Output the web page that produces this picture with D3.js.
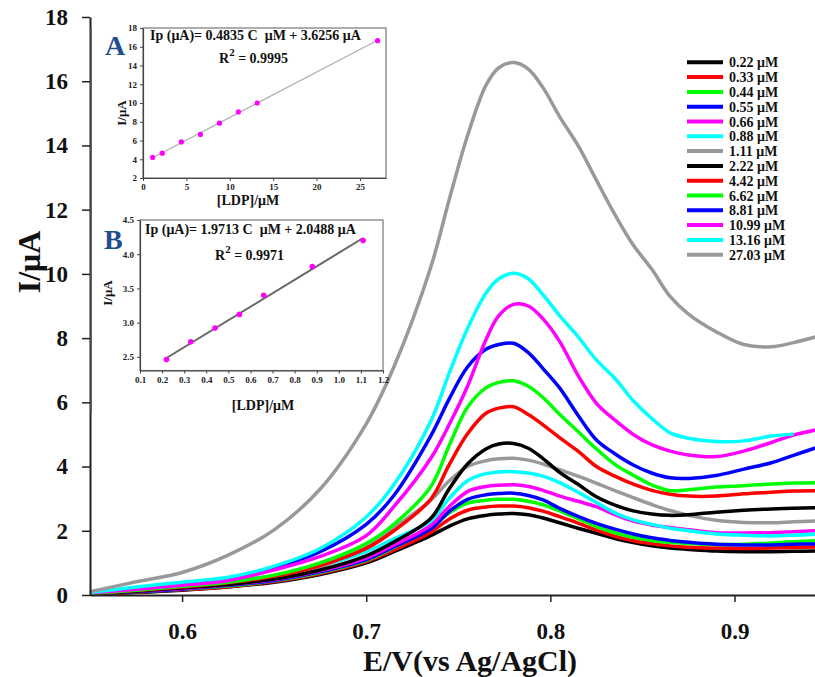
<!DOCTYPE html>
<html>
<head>
<meta charset="utf-8">
<script src="https://cdn.jsdelivr.net/npm/d3@7"></script>
<style>
  body { margin: 0; background: #fff; }
  text { font-family: "Liberation Serif", "Times New Roman", serif; font-weight: bold; }
</style>
</head>
<body>
<div id="chart"></div>
<script>
const width = 815;
const height = 677;

// potentials (V vs Ag/AgCl) shared by every voltammogram
const potentials = [0.55, 0.575, 0.6, 0.625, 0.65, 0.675, 0.70, 0.715, 0.735, 0.745, 0.755, 0.765, 0.772, 0.78,
    0.788, 0.796, 0.805, 0.815, 0.825, 0.835, 0.845, 0.855, 0.865, 0.875, 0.89, 0.905, 0.92, 0.932, 0.945];

// current (µA) per concentration
const c022 = [0.03,0.08,0.15,0.25,0.40,0.64,1.00,1.35,1.85,2.14,2.37,2.48,2.52,2.54,2.50,2.40,2.25,2.08,1.92,1.76,1.63,1.53,1.46,1.42,1.37,1.35,1.35,1.36,1.37];
const c033 = [0.03,0.09,0.16,0.26,0.42,0.67,1.04,1.40,1.95,2.36,2.64,2.74,2.77,2.77,2.72,2.61,2.44,2.24,2.02,1.83,1.69,1.60,1.53,1.49,1.46,1.45,1.46,1.48,1.50];
const c044 = [0.04,0.10,0.18,0.28,0.44,0.70,1.08,1.48,2.08,2.55,2.86,2.95,2.98,2.98,2.92,2.81,2.62,2.38,2.13,1.94,1.80,1.70,1.64,1.60,1.57,1.58,1.62,1.66,1.69];
const c055 = [0.04,0.10,0.18,0.30,0.45,0.72,1.10,1.50,2.06,2.60,2.98,3.12,3.16,3.17,3.10,2.96,2.70,2.45,2.23,2.05,1.90,1.78,1.70,1.64,1.58,1.56,1.56,1.58,1.59];
const c066 = [0.04,0.12,0.20,0.32,0.48,0.75,1.15,1.55,2.17,2.75,3.22,3.38,3.42,3.43,3.38,3.26,3.08,2.92,2.75,2.50,2.30,2.18,2.10,2.03,1.94,1.93,1.94,1.97,2.00];
const c088 = [0.06,0.20,0.30,0.42,0.60,0.90,1.35,1.75,2.30,3.00,3.56,3.78,3.83,3.84,3.80,3.70,3.50,3.20,2.88,2.56,2.34,2.20,2.08,2.00,1.90,1.86,1.84,1.86,1.90];
const c111 = [0.06,0.16,0.28,0.42,0.60,0.87,1.55,2.10,2.95,3.55,4.00,4.18,4.24,4.26,4.20,4.08,3.90,3.70,3.48,3.25,3.03,2.82,2.63,2.48,2.33,2.26,2.25,2.28,2.31];
const c222 = [0.05,0.12,0.22,0.33,0.50,0.78,1.22,1.65,2.38,3.30,4.08,4.55,4.70,4.72,4.57,4.25,3.82,3.45,3.06,2.80,2.62,2.52,2.48,2.50,2.58,2.64,2.68,2.70,2.72];
const c442 = [0.05,0.14,0.25,0.38,0.58,0.92,1.45,2.00,2.98,4.05,5.02,5.66,5.82,5.86,5.62,5.30,4.90,4.48,4.00,3.70,3.45,3.26,3.14,3.08,3.08,3.15,3.20,3.24,3.25];
const c662 = [0.05,0.15,0.27,0.40,0.62,1.00,1.60,2.20,3.37,4.65,5.85,6.45,6.62,6.67,6.50,6.15,5.63,5.09,4.55,4.07,3.73,3.43,3.25,3.28,3.36,3.40,3.46,3.49,3.50];
const c881 = [0.08,0.22,0.38,0.52,0.85,1.35,2.20,3.10,4.95,6.10,7.10,7.65,7.80,7.84,7.55,7.05,6.45,5.60,4.83,4.40,4.05,3.80,3.65,3.63,3.72,3.92,4.12,4.35,4.60];
const c1099 = [0.06,0.18,0.30,0.45,0.78,1.20,1.85,2.75,4.25,5.30,6.50,7.95,8.70,9.05,9.00,8.60,7.90,6.84,5.97,5.45,5.00,4.68,4.48,4.36,4.31,4.48,4.75,4.98,5.15];
const c1316 = [0.08,0.25,0.40,0.55,0.90,1.45,2.43,3.43,5.40,6.90,8.30,9.40,9.85,10.02,9.85,9.35,8.70,8.05,7.32,6.75,6.05,5.50,5.05,4.88,4.78,4.80,4.95,5.01,null];
const c2703 = [0.10,0.41,0.70,1.24,2.03,3.30,5.33,7.10,10.20,12.30,14.30,15.87,16.42,16.58,16.38,15.80,14.90,14.00,12.92,11.85,10.90,10.15,9.30,8.75,8.20,7.80,7.73,7.86,8.05];

const legendLabels = ["0.22 μM", "0.33 μM", "0.44 μM", "0.55 μM", "0.66 μM", "0.88 μM", "1.11 μM",
    "2.22 μM", "4.42 μM", "6.62 μM", "8.81 μM", "10.99 μM", "13.16 μM", "27.03 μM"];
const lineColors = ["#000000", "#ff0000", "#00ff00", "#0000ff", "#ff00ff", "#00ffff", "#999999",
    "#000000", "#ff0000", "#00ff00", "#0000ff", "#ff00ff", "#00ffff", "#999999"];
const currents = [c022, c033, c044, c055, c066, c088, c111, c222, c442, c662, c881, c1099, c1316, c2703];

const yTicks = [0, 2, 4, 6, 8, 10, 12, 14, 16, 18];
const xTicks = [0.6, 0.7, 0.8, 0.9];

// inset A: calibration 1.11 - 27.03 µM
const insetAConc = [1.11, 2.22, 4.42, 6.62, 8.81, 10.99, 13.16, 27.03];
const insetACurrent = [4.2, 4.65, 5.85, 6.65, 7.85, 9.05, 10.0, 16.65];
const insetAXTicks = [0, 5, 10, 15, 20, 25];
const insetAYTicks = [2, 4, 6, 8, 10, 12, 14, 16, 18];

// inset B: calibration 0.22 - 1.11 µM
const insetBConc = [0.22, 0.33, 0.44, 0.55, 0.66, 0.88, 1.11];
const insetBCurrent = [2.46, 2.72, 2.92, 3.12, 3.40, 3.82, 4.20];
const insetBXTicks = [0.1, 0.2, 0.3, 0.4, 0.5, 0.6, 0.7, 0.8, 0.9, 1.0, 1.1, 1.2];
const insetBYTicks = [2.5, 3.0, 3.5, 4.0, 4.5];

const svg = d3.select("#chart")
    .append("svg")
    .attr("width", width)
    .attr("height", height);

const x = d3.scaleLinear().domain([0.55, 0.9437]).range([90, 815]);
const y = d3.scaleLinear().domain([0, 18]).range([595, 17]);

// voltammograms
const line = d3.line()
    .defined(d => d[1] !== null)
    .x(d => x(d[0]))
    .y(d => y(d[1]))
    .curve(d3.curveCatmullRom.alpha(0.5));

currents.forEach((vals, i) => {
    svg.append("path")
        .datum(potentials.map((p, j) => [p, vals[j]]))
        .attr("d", line)
        .attr("fill", "none")
        .attr("stroke", lineColors[i])
        .attr("stroke-width", 3.5)
        .attr("stroke-linejoin", "round");
});

// axes
const yAxis = svg.append("g")
    .attr("transform", "translate(90,0)")
    .call(d3.axisLeft(y).tickValues(yTicks).tickSize(8).tickPadding(14).tickSizeOuter(0));
yAxis.selectAll("text").style("font-size", "23px").attr("fill", "#111");

const xAxis = svg.append("g")
    .attr("transform", "translate(0,595)")
    .call(d3.axisBottom(x).tickValues(xTicks).tickFormat(d3.format(".1f")).tickSize(7).tickSizeOuter(0));
xAxis.selectAll("text").style("font-size", "23px").attr("fill", "#111").attr("dy", null).attr("y", 44);

svg.selectAll(".domain").attr("stroke", "#222").attr("stroke-width", 2);
svg.selectAll(".tick line").attr("stroke", "#222").attr("stroke-width", 1.5);

svg.append("text")
    .attr("x", 470).attr("y", 671)
    .attr("text-anchor", "middle")
    .style("font-size", "30px")
    .attr("fill", "#111")
    .text("E/V(vs Ag/AgCl)");

svg.append("text")
    .attr("transform", "translate(40,262) rotate(-90)")
    .attr("text-anchor", "middle")
    .style("font-size", "32px")
    .attr("fill", "#111")
    .text("I/μA");

// legend
const legend = svg.append("g");
legendLabels.forEach((lab, i) => {
    const ly = 62.3 + i * 14.8;
    legend.append("line")
        .attr("x1", 687).attr("x2", 723)
        .attr("y1", ly).attr("y2", ly)
        .attr("stroke", lineColors[i])
        .attr("stroke-width", 4);
    legend.append("text")
        .attr("x", 729).attr("y", ly + 5)
        .style("font-size", "14px")
        .attr("fill", "#111")
        .text(lab);
});

// insets
svg.append("line")
    .attr("x1", 91).attr("x2", 91)
    .attr("y1", 28).attr("y2", 414)
    .attr("stroke", "#555").attr("stroke-width", 1.5);

function drawInset(opt) {
    const g = svg.append("g");
    const ix = d3.scaleLinear().domain(opt.xDomain).range(opt.xRange);
    const iy = d3.scaleLinear().domain(opt.yDomain).range(opt.yRange);

    g.append("rect")
        .attr("x", opt.xRange[0]).attr("y", opt.yRange[1])
        .attr("width", opt.xRange[1] - opt.xRange[0])
        .attr("height", opt.yRange[0] - opt.yRange[1])
        .attr("fill", "none")
        .attr("stroke", "#777").attr("stroke-width", 1.2);

    const ax = g.append("g")
        .attr("transform", `translate(0,${opt.yRange[0]})`)
        .call(d3.axisBottom(ix).tickValues(opt.xTicks).tickFormat(opt.xFormat).tickSize(3).tickPadding(3).tickSizeOuter(0));
    const ay = g.append("g")
        .attr("transform", `translate(${opt.xRange[0]},0)`)
        .call(d3.axisLeft(iy).tickValues(opt.yTicks).tickFormat(opt.yFormat).tickSize(3).tickPadding(3).tickSizeOuter(0));
    [ax, ay].forEach(a => {
        a.selectAll("text").style("font-size", "9px").attr("fill", "#222");
        a.select(".domain").attr("stroke", "#444").attr("stroke-width", 1.2);
        a.selectAll(".tick line").attr("stroke", "#444");
    });

    const fitX = d3.extent(opt.conc);
    g.append("line")
        .attr("x1", ix(fitX[0])).attr("y1", iy(opt.slope * fitX[0] + opt.intercept))
        .attr("x2", ix(fitX[1])).attr("y2", iy(opt.slope * fitX[1] + opt.intercept))
        .attr("stroke", opt.fitColor).attr("stroke-width", opt.fitWidth);

    g.selectAll("circle.pt")
        .data(opt.conc)
        .enter()
        .append("circle")
        .attr("cx", d => ix(d))
        .attr("cy", (d, i) => iy(opt.current[i]))
        .attr("r", opt.r)
        .attr("fill", "#ff00ff");

    g.append("text")
        .attr("x", opt.letterPos[0]).attr("y", opt.letterPos[1])
        .style("font-size", "28px")
        .attr("fill", "#1f4f8f")
        .text(opt.letter);

    g.append("text")
        .attr("x", opt.eqPos[0]).attr("y", opt.eqPos[1])
        .style("font-size", "14px")
        .style("white-space", "pre")
        .attr("fill", "#111")
        .text(opt.eq);

    const r2 = g.append("text")
        .attr("x", opt.r2Pos[0]).attr("y", opt.r2Pos[1])
        .style("font-size", "14px")
        .attr("fill", "#111");
    r2.append("tspan").text("R");
    r2.append("tspan").attr("dy", -7).style("font-size", "11px").text("2");
    r2.append("tspan").attr("dy", 7).text(" = " + opt.r2);

    g.append("text")
        .attr("transform", `translate(${opt.yLabelPos[0]},${opt.yLabelPos[1]}) rotate(-90)`)
        .attr("text-anchor", "middle")
        .style("font-size", "13px")
        .attr("fill", "#111")
        .text("I/μA");

    g.append("text")
        .attr("x", opt.xLabelPos[0]).attr("y", opt.xLabelPos[1])
        .attr("text-anchor", "middle")
        .style("font-size", "14px")
        .attr("fill", "#111")
        .text("[LDP]/μM");
}

drawInset({
    xDomain: [0, 28], xRange: [143, 386],
    yDomain: [2, 18], yRange: [178, 28],
    xTicks: insetAXTicks, yTicks: insetAYTicks,
    xFormat: d3.format("d"), yFormat: d3.format("d"),
    conc: insetAConc, current: insetACurrent,
    slope: 0.4835, intercept: 3.6256,
    fitColor: "#b0b0b0", fitWidth: 1.2, r: 2.6,
    letter: "A", letterPos: [105, 55],
    eq: "Ip (μA)= 0.4835 C  μM + 3.6256 μA", eqPos: [150, 40],
    r2: "0.9995", r2Pos: [219, 63],
    yLabelPos: [126, 113], xLabelPos: [248, 205]
});

drawInset({
    xDomain: [0.1, 1.2], xRange: [140, 383],
    yDomain: [2.3, 4.5], yRange: [370.5, 220],
    xTicks: insetBXTicks, yTicks: insetBYTicks,
    xFormat: d3.format(".1f"), yFormat: d3.format(".1f"),
    conc: insetBConc, current: insetBCurrent,
    slope: 1.9713, intercept: 2.0488,
    fitColor: "#666666", fitWidth: 2, r: 2.8,
    letter: "B", letterPos: [104, 249],
    eq: "Ip (μA)= 1.9713 C  μM + 2.0488 μA", eqPos: [145, 234],
    r2: "0.9971", r2Pos: [215, 260],
    yLabelPos: [112, 293], xLabelPos: [263, 410]
});
</script>
</body>
</html>
